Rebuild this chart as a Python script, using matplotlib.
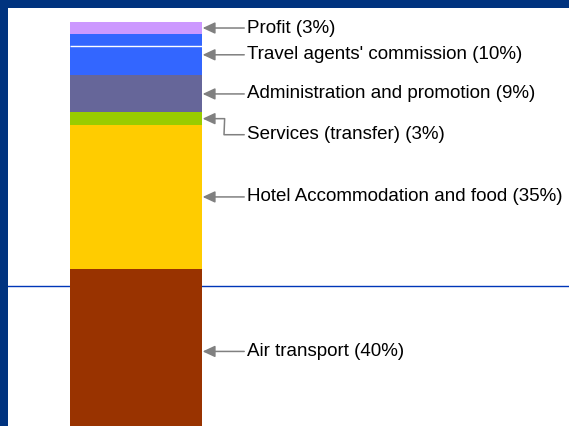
"""Stacked single bar: breakdown of a package tour price."""

import matplotlib

matplotlib.use("Agg")
import matplotlib.pyplot as plt
from matplotlib.lines import Line2D
from matplotlib.patches import Rectangle
import numpy as np

# data, bottom to top
labels = [
    "Air transport (40%)",
    "Hotel Accommodation and food (35%)",
    "Services (transfer) (3%)",
    "Administration and promotion (9%)",
    "Travel agents' commission (10%)",
    "Profit (3%)",
]
shares = [40, 35, 3, 9, 10, 3]
colors = ["#993300", "#FFCC00", "#99CC00", "#666699", "#3366FF", "#CC99FF"]
label_drop = [0, 0, 3.9, 0, 0, 0]  # label placed lower than its arrow (elbow)

NAVY = "#00337F"
ARROW = "#808080"
FONT = ["Liberation Sans Narrow", "Liberation Sans", "DejaVu Sans"]

fig = plt.figure(figsize=(5.69, 4.26), dpi=100)
ax = fig.add_axes([0, 0, 1, 1])
ax.set_xlim(-1.03, 3.28)
ax.set_ylim(1.9, 105.3)
ax.axis("off")

# slide template: thin rule behind the bar, navy frame on top/left
fig_w, fig_h = fig.get_size_inches() * fig.dpi
ax.add_line(Line2D([8 / fig_w, 1], [1 - 286 / fig_h] * 2, transform=fig.transFigure,
                   color="#0036B8", lw=1.0, zorder=0.5))
fig.patches.append(Rectangle((0, 0), 8 / fig_w, 1, transform=fig.transFigure,
                             facecolor=NAVY, edgecolor="none", zorder=10))
fig.patches.append(Rectangle((0, 1 - 8 / fig_h), 1, 8 / fig_h, transform=fig.transFigure,
                             facecolor=NAVY, edgecolor="none", zorder=10))

bottoms = np.concatenate([[0], np.cumsum(shares)[:-1]])
ax.bar([0] * len(shares), shares, bottom=bottoms, width=1.0, color=colors,
       edgecolor="none", zorder=1)

# thin white split inside the commission band
travel_top = bottoms[4] + shares[4]
ax.hlines(travel_top - 2.8, -0.5, 0.5, color="white", lw=1.0, zorder=2)

for label, share, bottom, drop in zip(labels, shares, bottoms, label_drop):
    mid = bottom + share / 2
    if drop:
        # arm lengths are in display pixels
        conn = "arc,angleA=180,armA=23,angleB=0,armB=22,rad=0"
    else:
        conn = "arc3,rad=0"
    ax.annotate(
        label,
        xy=(0.505, mid),
        xytext=(0.841, mid - drop),
        va="center",
        ha="left",
        fontsize=13.5,
        family=FONT,
        color="black",
        arrowprops=dict(
            arrowstyle="-|>,head_length=0.75,head_width=0.35",
            mutation_scale=10,
            color=ARROW,
            lw=1.1,
            shrinkA=0,
            shrinkB=0,
            relpos=(0, 0.5),
            connectionstyle=conn,
        ),
    )

fig.savefig("out.png", dpi=100)
